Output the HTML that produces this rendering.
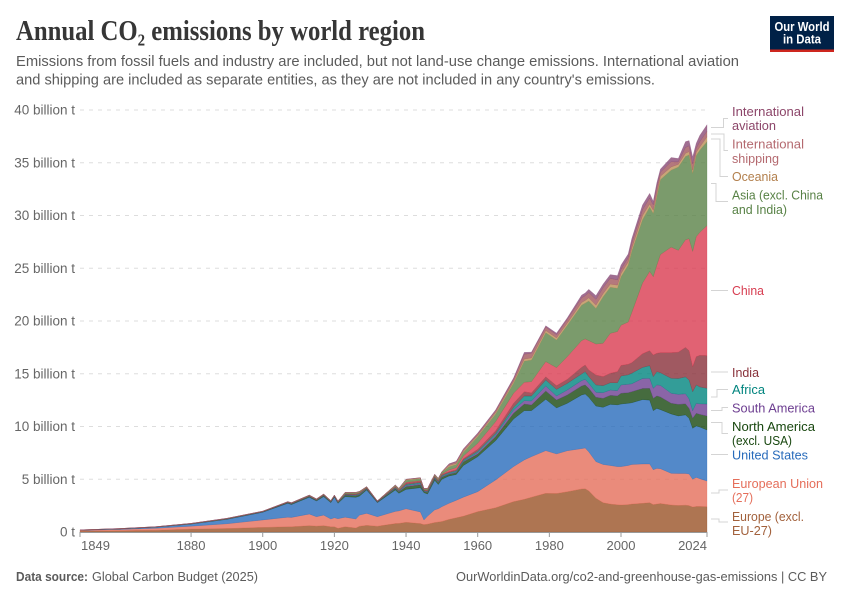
<!DOCTYPE html>
<html lang="en">
<head>
<meta charset="utf-8">
<title>Annual CO₂ emissions by world region</title>
<style>
html,body{margin:0;padding:0;background:#fff}
svg{display:block}
text{font-family:"Liberation Sans",sans-serif}
.lbl{font-size:13px}
.conn{fill:none;stroke:#d4d4d4;stroke-width:1}
</style>
</head>
<body>
<svg id="chart" xmlns="http://www.w3.org/2000/svg" width="850" height="600" viewBox="0 0 850 600">
  <text x="16" y="40" textLength="409" lengthAdjust="spacingAndGlyphs" style="font-family:'Liberation Serif',serif;font-size:29px;font-weight:700" fill="#363636">Annual CO₂ emissions by world region</text>
  <text x="16" y="66" textLength="723" lengthAdjust="spacingAndGlyphs" font-size="14.5" fill="#5b5b5b">Emissions from fossil fuels and industry are included, but not land-use change emissions. International aviation</text>
  <text x="16" y="84.5" textLength="639" lengthAdjust="spacingAndGlyphs" font-size="14.5" fill="#5b5b5b">and shipping are included as separate entities, as they are not included in any country's emissions.</text>

  <g>
    <rect x="770" y="16" width="64" height="36" fill="#002147"/>
    <rect x="770" y="49.5" width="64" height="2.5" fill="#ce261e"/>
    <text x="802" y="31" text-anchor="middle" font-size="13" font-weight="700" fill="#fff" textLength="55" lengthAdjust="spacingAndGlyphs">Our World</text>
    <text x="802" y="43.5" text-anchor="middle" font-size="13" font-weight="700" fill="#fff" textLength="38" lengthAdjust="spacingAndGlyphs">in Data</text>
  </g>

  <g id="grid"></g>
  <g id="yticks"></g>
  <g id="areas"></g>
  <g id="xaxis"></g>

  <g>
    <path class="conn" d="M711,127.5H723.5V118.5H728"/>
    <path class="conn" d="M711,134H724V150.5H728"/>
    <path class="conn" d="M711,139H720V176.5H728"/>
    <path class="conn" d="M711,183.5H716V201.5H728"/>
    <path class="conn" d="M711,290.5H728"/>
    <path class="conn" d="M711,372H728"/>
    <path class="conn" d="M711,397H717V389.5H728"/>
    <path class="conn" d="M711,410.5H722V407.5H728"/>
    <path class="conn" d="M711,422.5H722V433.5H728"/>
    <path class="conn" d="M711,454.5H728"/>
    <path class="conn" d="M711,493H719V490H728"/>
    <path class="conn" d="M711,519H719V522H728"/>
  </g>

  <g>
    <g fill="#8c4569">
      <text class="lbl" x="732" y="116" textLength="72" lengthAdjust="spacingAndGlyphs">International</text>
      <text class="lbl" x="732" y="130" textLength="44" lengthAdjust="spacingAndGlyphs">aviation</text>
    </g>
    <g fill="#b4696f">
      <text class="lbl" x="732" y="148.5" textLength="72" lengthAdjust="spacingAndGlyphs">International</text>
      <text class="lbl" x="732" y="163" textLength="47" lengthAdjust="spacingAndGlyphs">shipping</text>
    </g>
    <text class="lbl" x="732" y="181" fill="#b27f4c" textLength="46" lengthAdjust="spacingAndGlyphs">Oceania</text>
    <g fill="#578145">
      <text class="lbl" x="732" y="199.5" textLength="91" lengthAdjust="spacingAndGlyphs">Asia (excl. China</text>
      <text class="lbl" x="732" y="214" textLength="55" lengthAdjust="spacingAndGlyphs">and India)</text>
    </g>
    <text class="lbl" x="732" y="295" fill="#d73c50" textLength="32" lengthAdjust="spacingAndGlyphs">China</text>
    <text class="lbl" x="732" y="377" fill="#883039" textLength="27" lengthAdjust="spacingAndGlyphs">India</text>
    <text class="lbl" x="732" y="394" fill="#00847e" textLength="33" lengthAdjust="spacingAndGlyphs">Africa</text>
    <text class="lbl" x="732" y="412.5" fill="#6d3e91" textLength="83" lengthAdjust="spacingAndGlyphs">South America</text>
    <g fill="#18470f">
      <text class="lbl" x="732" y="431" textLength="83" lengthAdjust="spacingAndGlyphs">North America</text>
      <text class="lbl" x="732" y="445" textLength="60" lengthAdjust="spacingAndGlyphs">(excl. USA)</text>
    </g>
    <text class="lbl" x="732" y="459.5" fill="#286bbb" textLength="76" lengthAdjust="spacingAndGlyphs">United States</text>
    <g fill="#e56e5a">
      <text class="lbl" x="732" y="488" textLength="91" lengthAdjust="spacingAndGlyphs">European Union</text>
      <text class="lbl" x="732" y="502" textLength="21" lengthAdjust="spacingAndGlyphs">(27)</text>
    </g>
    <g fill="#a2613c">
      <text class="lbl" x="732" y="521" textLength="72" lengthAdjust="spacingAndGlyphs">Europe (excl.</text>
      <text class="lbl" x="732" y="535" textLength="40" lengthAdjust="spacingAndGlyphs">EU-27)</text>
    </g>
  </g>

  <text x="16" y="581" font-size="13" font-weight="700" fill="#5b5b5b" textLength="72" lengthAdjust="spacingAndGlyphs">Data source:</text>
  <text x="92" y="581" font-size="13" fill="#5b5b5b" textLength="166" lengthAdjust="spacingAndGlyphs">Global Carbon Budget (2025)</text>
  <text x="456" y="581" font-size="13" fill="#5b5b5b" textLength="371" lengthAdjust="spacingAndGlyphs">OurWorldinData.org/co2-and-greenhouse-gas-emissions | CC BY</text>
</svg>

<script>
const years = [1849,1860,1870,1880,1890,1900,1907,1908,1913,1915,1917,1919,1920,1921,1923,1926,1927,1929,1932,1937,1938,1940,1944,1945,1946,1948,1949,1950,1952,1954,1956,1960,1965,1970,1973,1975,1979,1982,1985,1989,1990,1991,1993,1995,1997,1999,2000,2002,2003,2006,2008,2009,2010,2011,2014,2016,2018,2019,2020,2021,2022,2024];

const europeValues = [.08,.12,.17,.28,.33,.44,.5,.5,.6,.56,.6,.5,.5,.35,.5,.38,.55,.63,.55,.8,.82,.92,.8,.7,.75,.9,.95,1.0,1.2,1.35,1.5,1.93,2.3,2.88,3.1,3.3,3.67,3.65,3.82,4.08,4.1,3.9,3.2,2.78,2.65,2.58,2.56,2.6,2.65,2.72,2.78,2.6,2.65,2.7,2.56,2.52,2.55,2.5,2.37,2.42,2.42,2.4];
const euValues = [.07,.12,.18,.27,.45,.7,.9,.88,1.1,.89,1.0,.73,.85,.91,.9,.85,1.05,1.14,.9,1.15,1.18,1.28,1.1,.44,.75,1.2,1.25,1.4,1.52,1.65,1.8,1.89,2.63,3.32,3.73,3.84,4.04,3.75,3.88,3.82,3.86,3.7,3.47,3.62,3.65,3.62,3.64,3.7,3.75,3.73,3.67,3.3,3.38,3.3,3.0,3.03,3.0,3.0,2.63,2.76,2.63,2.43];
const usValues = [.02,.05,.1,.2,.42,.73,1.32,1.22,1.59,1.49,1.75,1.55,1.94,1.46,1.95,2.06,1.8,2.21,1.33,2.03,1.67,1.84,2.3,2.59,2.1,2.8,2.3,2.6,2.59,2.45,3.0,3.32,3.73,4.51,4.67,4.36,4.87,4.36,4.5,5.09,5.12,5.17,5.27,5.42,5.8,5.85,5.93,5.9,5.85,6.1,6.05,5.6,5.69,5.6,5.63,5.45,5.55,5.28,4.83,4.87,4.9,4.84];
const northAmericaValues = [.01,.01,.02,.02,.03,.03,.05,.05,.06,.06,.08,.06,.06,.07,.12,.14,.14,.1,.05,.14,.14,.26,.28,.12,.16,.17,.18,.21,.16,.18,.35,.25,.38,.54,.63,.54,.79,.75,.79,.85,.86,.85,.83,.85,.85,.85,1.02,1.0,1.05,1.05,1.12,1.17,1.18,1.2,1.01,1.1,1.05,.94,.95,1.2,1.2,1.33];
const southAmericaValues = [0,0,0,.01,.01,.01,.02,.02,.02,.02,.03,.02,.02,.02,.04,.05,.05,.03,.02,.05,.05,.1,.1,.04,.05,.06,.06,.07,.06,.07,.07,.13,.16,.32,.32,.38,.47,.38,.47,.51,.53,.47,.47,.54,.5,.5,.79,.8,.75,.95,.95,.95,1.04,1.1,.95,.95,.95,.89,.72,.95,1.0,1.13];
const africaValues = [0,0,0,0,.01,.01,.01,.02,.02,.02,.02,.02,.02,.02,.04,.05,.05,.03,.02,.05,.05,.1,.1,.04,.05,.06,.06,.08,.09,.1,.11,.13,.15,.25,.44,.47,.57,.63,.63,.63,.73,.64,.7,.66,.7,.75,.85,.9,1.0,1.05,1.2,1.11,1.26,1.2,1.42,1.5,1.6,1.8,1.8,1.74,1.6,1.49];
const indiaValues = [.01,.01,.01,.01,.01,.02,.02,.03,.03,.03,.04,.03,.03,.03,.06,.07,.07,.05,.03,.07,.07,.15,.14,.06,.08,.09,.09,.11,.1,.1,.12,.19,.25,.38,.41,.3,.3,.35,.38,.63,.63,.63,.94,.86,.9,1.05,1.0,1.0,1.0,1.3,1.42,2.05,1.74,1.9,2.43,2.5,2.8,2.78,2.37,2.68,3.0,3.1];
const chinaValues = [0,0,0,0,0,0,.01,.01,.01,.01,.01,.01,.01,.01,.02,.02,.02,.02,.01,.03,.03,.06,.05,.02,.03,.03,.03,.04,.16,.2,.25,.57,.86,.95,.89,1.06,1.44,1.71,2.15,2.53,2.47,2.78,2.94,3.16,3.78,3.8,3.81,4.0,4.75,6.7,7.51,7.42,8.36,9.3,10.0,9.65,10.2,10.61,10.93,11.38,11.65,12.32];
const asiaValues = [.01,.01,.01,.02,.02,.02,.03,.03,.04,.03,.04,.03,.04,.04,.08,.09,.08,.06,.03,.09,.08,.2,.19,.08,.11,.11,.12,.15,.31,.3,.35,.63,.73,.94,2.01,2.05,2.75,2.62,2.98,3.36,3.4,3.76,3.38,4.41,4.37,4.1,4.6,5.4,5.8,6.0,6.1,6.0,6.5,7.1,7.3,7.9,7.9,7.95,7.4,7.7,7.8,7.96];
const oceaniaValues = [0,.01,.01,.01,.01,.01,.01,.01,.02,.02,.02,.02,.02,.02,.03,.03,.03,.02,.01,.03,.03,.06,.06,.02,.03,.03,.03,.04,.11,.1,.1,.11,.13,.16,.2,.2,.2,.2,.2,.25,.25,.3,.3,.3,.3,.3,.3,.3,.3,.4,.3,.3,.3,.32,.3,.25,.3,.3,.3,.3,.3,.45];
const shippingValues = [0,0,0,0,.01,.01,.01,.01,.01,.01,.01,.01,.01,.01,.02,.02,.01,.01,0,.02,.02,.03,.03,.02,.03,.02,.02,.02,.12,.15,.18,.15,.18,.22,.45,.45,.33,.3,.35,.45,.45,.5,.55,.55,.55,.5,.4,.4,.5,.55,.55,.5,.6,.38,.5,.25,.55,.55,.6,.4,.5,.55];
const aviationValues = [0,0,0,0,0,0,0,0,0,0,0,0,0,0,0,0,0,0,0,0,0,0,0,0,0,0,0,0,.05,.05,.05,.08,.08,.13,.18,.1,.12,.15,.15,.25,.25,.3,.35,.35,.35,.4,.4,.35,.4,.45,.45,.35,.4,.3,.4,.3,.55,.5,.65,.45,.6,.6];

const yTickValues = [0,5,10,15,20,25,30,35,40];
const yTickLabels = ["0 t","5 billion t","10 billion t","15 billion t","20 billion t","25 billion t","30 billion t","35 billion t","40 billion t"];
const xTickYears = [1849,1880,1900,1920,1940,1960,1980,2000,2024];

const stackOrder = [
  {key:"europe", values:europeValues, color:"#9a5227"},
  {key:"european-union", values:euValues, color:"#e56e5a"},
  {key:"united-states", values:usValues, color:"#286bbb"},
  {key:"north-america", values:northAmericaValues, color:"#18470f"},
  {key:"south-america", values:southAmericaValues, color:"#6d3e91"},
  {key:"africa", values:africaValues, color:"#00847e"},
  {key:"india", values:indiaValues, color:"#883039"},
  {key:"china", values:chinaValues, color:"#d93b50"},
  {key:"asia", values:asiaValues, color:"#5a8247"},
  {key:"oceania", values:oceaniaValues, color:"#ba8e56"},
  {key:"international-shipping", values:shippingValues, color:"#a1565c"},
  {key:"international-aviation", values:aviationValues, color:"#884a75"}
];

const NS = "http://www.w3.org/2000/svg";
function xScale(year){ return 80 + (year - 1849) * (707 - 80) / (2024 - 1849); }
function yScale(v){ return 532 - v * (532 - 110) / 40; }
function fmt(n){ return n.toFixed(2); }

const gridLayer = document.getElementById("grid");
const yLabelLayer = document.getElementById("yticks");
yTickValues.forEach(function(v, i){
  if (v !== 0) {
    const line = document.createElementNS(NS, "line");
    
    
    line.setAttribute("x1", 80);
    line.setAttribute("x2", 707);
    line.setAttribute("y1", yScale(v));
    line.setAttribute("y2", yScale(v));
    line.setAttribute("stroke", "#dddddd");
    line.setAttribute("stroke-dasharray", "4 5");
    gridLayer.appendChild(line);
  }
  const t = document.createElementNS(NS, "text");
  
  
  t.setAttribute("x", 75);
  t.setAttribute("y", yScale(v) + 4.5);
  t.setAttribute("text-anchor", "end");
  t.setAttribute("font-size", "13.5");
  t.setAttribute("fill", "#666666");
  t.textContent = yTickLabels[i];
  yLabelLayer.appendChild(t);
});

const areaLayer = document.getElementById("areas");
const baseline = years.map(function(){ return 0; });
stackOrder.forEach(function(series){
  const tops = series.values.map(function(v, i){ return baseline[i] + v; });
  let d = "";
  tops.forEach(function(v, i){
    d += (i === 0 ? "M" : "L") + fmt(xScale(years[i])) + "," + fmt(yScale(v));
  });
  for (let i = years.length - 1; i >= 0; i--) {
    d += "L" + fmt(xScale(years[i])) + "," + fmt(yScale(baseline[i]));
  }
  d += "Z";
  const path = document.createElementNS(NS, "path");
  
  
  path.setAttribute("d", d);
  path.setAttribute("fill", series.color);
  path.setAttribute("fill-opacity", "0.8");
  path.setAttribute("stroke", series.color);
  path.setAttribute("stroke-width", "0.5");
  path.setAttribute("stroke-opacity", "0.5");
  areaLayer.appendChild(path);
  tops.forEach(function(v, i){ baseline[i] = v; });
});

const xLayer = document.getElementById("xaxis");
const axisLine = document.createElementNS(NS, "line");


axisLine.setAttribute("x1", 80);
axisLine.setAttribute("x2", 707);
axisLine.setAttribute("y1", 532.5);
axisLine.setAttribute("y2", 532.5);
axisLine.setAttribute("stroke", "#999999");
xLayer.appendChild(axisLine);
xTickYears.forEach(function(yr, i){
  const x = xScale(yr);
  const tick = document.createElementNS(NS, "line");
  
  
  tick.setAttribute("x1", x);
  tick.setAttribute("x2", x);
  tick.setAttribute("y1", 532);
  tick.setAttribute("y2", 537);
  tick.setAttribute("stroke", "#999999");
  xLayer.appendChild(tick);
  const label = document.createElementNS(NS, "text");
  
  
  label.setAttribute("y", 550);
  label.setAttribute("font-size", "13");
  label.setAttribute("fill", "#666666");
  if (i === 0) {
    label.setAttribute("x", x + 1);
    label.setAttribute("text-anchor", "start");
  } else if (i === xTickYears.length - 1) {
    label.setAttribute("x", x);
    label.setAttribute("text-anchor", "end");
  } else {
    label.setAttribute("x", x);
    label.setAttribute("text-anchor", "middle");
  }
  label.textContent = String(yr);
  xLayer.appendChild(label);
});
</script>
</body>
</html>
